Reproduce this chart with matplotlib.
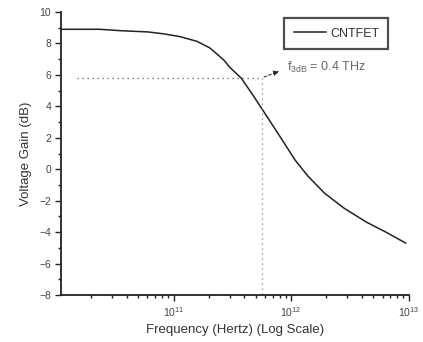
import numpy as np
import matplotlib
matplotlib.use("Agg")
import matplotlib.pyplot as plt
from matplotlib.ticker import LogLocator, MultipleLocator, NullFormatter

plt.rcParams['font.family'] = ['Liberation Sans', 'DejaVu Sans']
plt.rcParams['mathtext.fontset'] = 'custom'
plt.rcParams['mathtext.rm'] = 'Liberation Sans'
plt.rcParams['mathtext.it'] = 'Liberation Sans:italic'

# gain curve (frequency in Hz, gain in dB)
freq = [1.10e10, 2.33e10, 3.55e10, 6.07e10, 8.41e10, 1.14e11, 1.585e11,
        2.03e11, 2.33e11, 2.71e11, 2.99e11, 3.76e11, 4.73e11, 5.73e11,
        6.95e11, 8.41e11, 1.08e12, 1.39e12, 1.92e12, 2.82e12, 4.38e12,
        6.43e12, 9.44e12]
gain = [8.90, 8.90, 8.81, 8.73, 8.60, 8.43, 8.13,
        7.72, 7.34, 6.90, 6.50, 5.80, 4.72, 3.77,
        2.81, 1.86, 0.59, -0.43, -1.51, -2.47, -3.36,
        -4.00, -4.69]

f3db_start = 1.5e10
f3db_x = 5.6e11
f3db_y = 5.8

fig = plt.figure(figsize=(4.23, 3.42), dpi=100)
ax = fig.add_axes([0.144, 0.137, 0.822, 0.828])

ax.plot(freq, gain, color='#222222', lw=1.1, label='CNTFET')

# dotted guide lines for the -3 dB point
ax.plot([f3db_start, f3db_x], [f3db_y, f3db_y], ls=(0, (1, 3)), color='#555555', lw=0.9)
ax.plot([f3db_x, f3db_x], [f3db_y, -8], ls=(0, (1, 3)), color='#888888', lw=0.9)
ax.annotate('', xy=(8.3e11, 6.3), xytext=(f3db_x, f3db_y),
            arrowprops=dict(arrowstyle='-|>', ls=(0, (3, 2)), color='#222222',
                            lw=0.7, mutation_scale=8))
ax.text(9.2e11, 6.25, r'f$_{\mathrm{3dB}}$ = 0.4 THz', fontsize=9, color='#666666')

ax.set_xscale('log')
ax.set_xlim(1.1e10, 1e13)
ax.set_ylim(-8, 10)
ax.yaxis.set_major_locator(MultipleLocator(2))
ax.yaxis.set_minor_locator(MultipleLocator(1))
ax.xaxis.set_minor_locator(LogLocator(base=10, subs=np.arange(2, 10)))
ax.xaxis.set_minor_formatter(NullFormatter())
ax.set_xticks([1e11, 1e12, 1e13])
ax.set_xticklabels([r'$10^{11}$', r'$10^{12}$', r'$10^{13}$'])

for s in ['top', 'right']:
    ax.spines[s].set_visible(False)
for s in ['left', 'bottom']:
    ax.spines[s].set_linewidth(1.3)
    ax.spines[s].set_color('#222222')

ax.tick_params(which='major', length=4, width=1.0, labelsize=7.5,
               labelcolor='#444444', color='#222222', pad=3)
ax.tick_params(which='minor', length=2.5, width=1.0, color='#222222')

ax.set_xlabel('Frequency (Hertz) (Log Scale)', fontsize=9.5, color='#333333', labelpad=4)
ax.set_ylabel('Voltage Gain (dB)', fontsize=9.5, color='#333333', labelpad=5)

leg = ax.legend(loc='upper right', bbox_to_anchor=(0.96, 1.0), fontsize=9,
                frameon=True, fancybox=False, handlelength=2.6, handletextpad=0.3,
                borderpad=0.75, labelcolor='#333333')
leg.get_frame().set_edgecolor('#222222')
leg.get_frame().set_linewidth(1.6)

fig.savefig('out.png', dpi=100)
